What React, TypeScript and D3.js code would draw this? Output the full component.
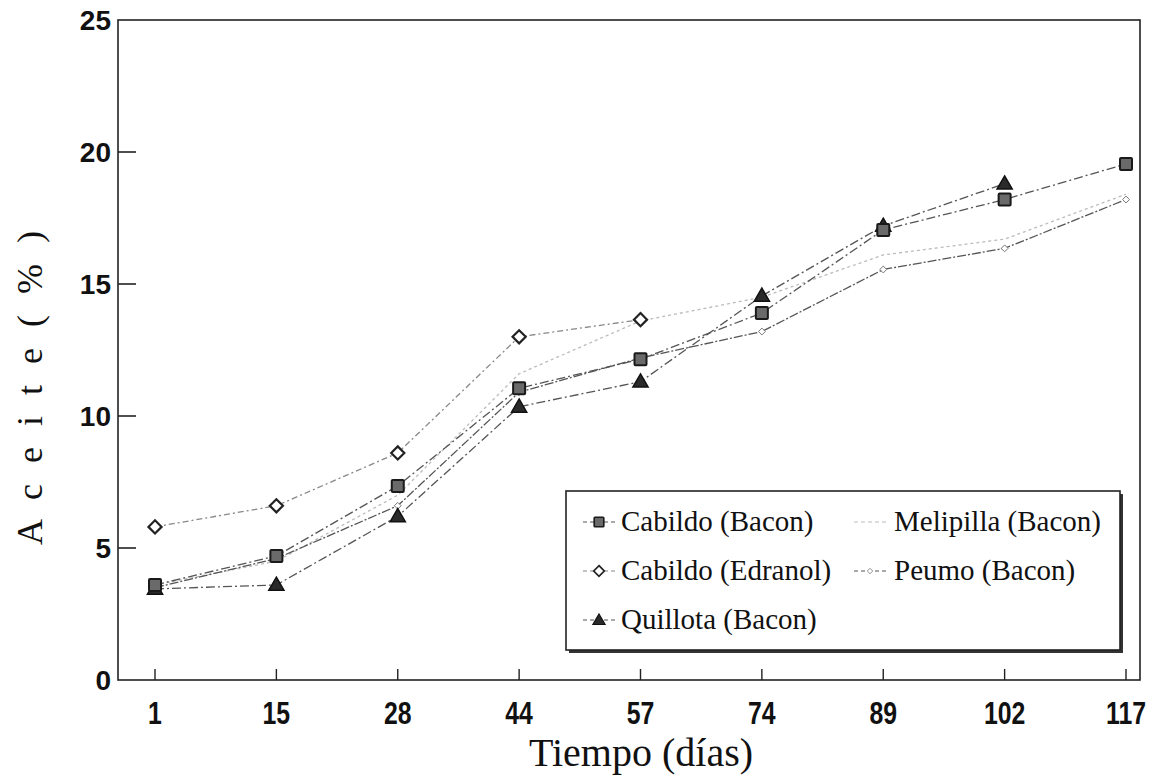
import React from "react";
import * as d3 from "d3";

const days = ["1", "15", "28", "44", "57", "74", "89", "102", "117"];
const yTicks = [0, 5, 10, 15, 20, 25];

// values per day index (null = no point)
const cabildoBacon = [3.6, 4.7, 7.35, 11.05, 12.15, 13.9, 17.05, 18.2, 19.55];
const cabildoEdranol = [5.8, 6.6, 8.6, 13.0, 13.65, null, null, null, null];
const quillotaBacon = [3.45, 3.6, 6.2, 10.35, 11.3, 14.55, 17.2, 18.8, null];
const melipillaBacon = [3.6, 4.5, 7.0, 11.6, 13.6, 14.5, 16.1, 16.7, 18.4];
const peumoBacon = [3.5, 4.6, 6.6, 10.9, 12.2, 13.2, 15.55, 16.35, 18.2];

const W = 1158;
const H = 779;

const SERIF = "'Liberation Serif', 'Times New Roman', serif";
const SANS = "'Liberation Sans', Arial, sans-serif";

type Series = {
  name: string;
  values: (number | null)[];
  marker: "square" | "diamond" | "triangle" | "smalldiamond" | "none";
  line: string;
  dash: string;
};

const series: Series[] = [
  { name: "Melipilla (Bacon)", values: melipillaBacon, marker: "none", line: "#bbb", dash: "3,3" },
  { name: "Peumo (Bacon)", values: peumoBacon, marker: "smalldiamond", line: "#555", dash: "9,2,2,2" },
  { name: "Cabildo (Edranol)", values: cabildoEdranol, marker: "diamond", line: "#888", dash: "6,3,2,3" },
  { name: "Quillota (Bacon)", values: quillotaBacon, marker: "triangle", line: "#555", dash: "9,3,2,3" },
  { name: "Cabildo (Bacon)", values: cabildoBacon, marker: "square", line: "#555", dash: "9,3,2,3" },
];

function Marker({ type, x, y, k = 1 }: { type: string; x: number; y: number; k?: number }) {
  const t = `translate(${x},${y}) scale(${k})`;
  if (type === "square") {
    return <rect transform={t} x={-6} y={-6} width={12} height={12} fill="#6a6a6a" stroke="#1a1a1a" strokeWidth={2} rx={1} />;
  }
  if (type === "diamond") {
    const p = d3.symbol(d3.symbolDiamond2, 110)();
    return <path d={p!} transform={t} fill="#fff" stroke="#222" strokeWidth={2.2} />;
  }
  if (type === "smalldiamond") {
    const p = d3.symbol(d3.symbolDiamond2, 30)();
    return <path d={p!} transform={t} fill="#fff" stroke="#777" strokeWidth={1} />;
  }
  if (type === "triangle") {
    const p = d3.symbol(d3.symbolTriangle, 100)();
    return <path d={p!} transform={`translate(${x},${y + 1}) scale(${k})`} fill="#2a2a2a" stroke="#111" strokeWidth={1.5} />;
  }
  return null;
}

export default function App() {
  const x = d3.scaleLinear().domain([0, days.length - 1]).range([155, 1126]);
  const y = d3.scaleLinear().domain([0, 25]).range([680, 20]);
  const left = 118;
  const right = 1140;

  const lineGen = d3
    .line<[number, number | null]>()
    .defined((d) => d[1] !== null)
    .x((d) => x(d[0]))
    .y((d) => y(d[1] as number));

  const legendRows = [
    { col: 0, row: 0, s: "Cabildo (Bacon)" },
    { col: 0, row: 1, s: "Cabildo (Edranol)" },
    { col: 0, row: 2, s: "Quillota (Bacon)" },
    { col: 1, row: 0, s: "Melipilla (Bacon)" },
    { col: 1, row: 1, s: "Peumo (Bacon)" },
  ];

  return (
    <svg width={W} height={H} style={{ position: "absolute", left: 0, top: 0, background: "#fff" }}>
      {/* frame */}
      <rect x={left} y={y(25)} width={right - left} height={y(0) - y(25)} fill="none" stroke="#222" strokeWidth={1.6} />
      {/* y ticks */}
      {yTicks.map((t) => (
        <g key={t}>
          {t > 0 && t < 25 && <line x1={left} x2={left + 18} y1={y(t)} y2={y(t)} stroke="#222" strokeWidth={1.6} />}
          <text
            x={111}
            y={y(t)}
            dy="0.36em"
            textAnchor="end"
            fontFamily={SANS}
            fontWeight="bold"
            fontSize={28}
            fill="#111"
          >
            {t}
          </text>
        </g>
      ))}
      {/* x ticks */}
      {days.map((d, i) => (
        <g key={d}>
          <line x1={x(i)} x2={x(i)} y1={y(0)} y2={y(0) - 11} stroke="#222" strokeWidth={1.4} />
          <text
            transform={`translate(${x(i)},724) scale(0.8,1)`}
            textAnchor="middle"
            fontFamily={SANS}
            fontWeight="bold"
            fontSize={31}
            fill="#111"
          >
            {d}
          </text>
        </g>
      ))}
      {/* axis titles */}
      <text x={641} y={766} textAnchor="middle" fontFamily={SERIF} fontSize={40} fill="#111">
        Tiempo (días)
      </text>
      <text
        transform="translate(42,385) rotate(-90)"
        textAnchor="middle"
        fontFamily={SERIF}
        fontSize={36}
        letterSpacing={6}
        fill="#111"
      >
        A c e i t e  ( % )
      </text>
      {/* lines */}
      {series.map((s) => (
        <path
          key={s.name}
          d={lineGen(s.values.map((v, i) => [i, v] as [number, number | null]))!}
          fill="none"
          stroke={s.line}
          strokeWidth={1.3}
          strokeDasharray={s.dash}
        />
      ))}
      {/* markers */}
      {series.map((s) =>
        s.values.map((v, i) =>
          v === null ? null : <Marker key={s.name + i} type={s.marker} x={x(i)} y={y(v)} />
        )
      )}
      {/* legend */}
      <rect x={569} y={494} width={554} height={159} fill="#333" />
      <rect x={566} y={491} width={554} height={159} fill="#fff" stroke="#222" strokeWidth={1.6} />
      {legendRows.map((r) => {
        const s = series.find((q) => q.name === r.s)!;
        const cx = r.col === 0 ? 599 : 870;
        const cy = 522 + r.row * 49;
        const tx = r.col === 0 ? 621 : 894;
        return (
          <g key={r.s}>
            <line x1={cx - 16} x2={cx + 16} y1={cy} y2={cy} stroke={s.line} strokeWidth={1.2} strokeDasharray="4,3" />
            <Marker type={s.marker} x={cx} y={cy} k={0.8} />
            <text x={tx} y={cy + 9} fontFamily={SERIF} fontSize={29} fill="#111">
              {r.s}
            </text>
          </g>
        );
      })}
    </svg>
  );
}
